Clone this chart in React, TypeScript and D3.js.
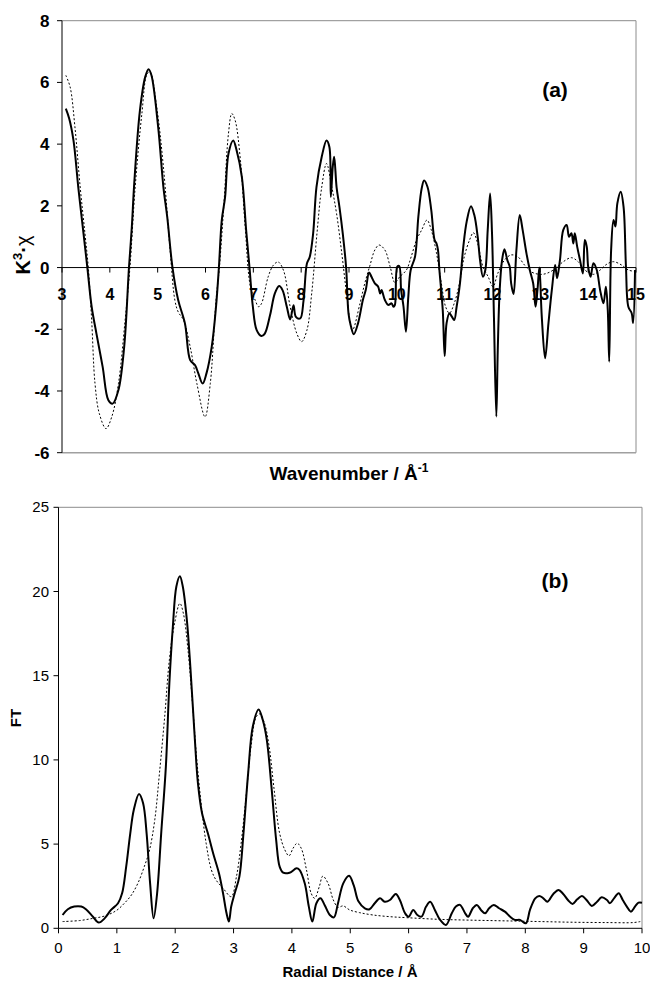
import React from "react";
import * as d3 from "d3";

// ---------- Panel (a): k^3·chi vs wavenumber ----------
const kExp = [3.08,3.15,3.24,3.34,3.45,3.53,3.62,3.72,3.85,3.97,4.06,4.18,4.30,4.40,4.46,4.51,4.63,4.74,4.81,4.87,5.01,5.12,5.20,5.31,5.43,5.57,5.68,5.78,5.85,5.94,6.02,6.13,6.22,6.28,6.34,6.41,6.48,6.58,6.65,6.76,6.85,6.92,6.99,7.07,7.17,7.24,7.35,7.45,7.54,7.61,7.70,7.77,7.84,7.89,7.98,8.05,8.12,8.18,8.25,8.32,8.43,8.53,8.59,8.62,8.66,8.69,8.74,8.80,8.87,8.94,8.99,9.04,9.10,9.19,9.29,9.35,9.42,9.47,9.54,9.61,9.65,9.68,9.75,9.82,9.89,9.93,9.96,10.01,10.05,10.09,10.14,10.19,10.24,10.29,10.38,10.45,10.52,10.57,10.64,10.72,10.79,10.83,10.86,10.89,10.96,11.0,11.04,11.10,11.15,11.20,11.25,11.32,11.39,11.46,11.55,11.62,11.69,11.74,11.80,11.85,11.90,11.95,11.99,12.03,12.08,12.11,12.15,12.20,12.25,12.31,12.36,12.39,12.44,12.50,12.57,12.63,12.71,12.78,12.85,12.90,12.94,12.98,13.03,13.10,13.17,13.24,13.31,13.35,13.41,13.48,13.55,13.60,13.65,13.69,13.72,13.77,13.83,13.89,13.93,13.97,14.0,14.05,14.11,14.18,14.25,14.32,14.37,14.41,14.44,14.48,14.53,14.57,14.61,14.68,14.74,14.79,14.84,14.91,14.94,14.98];
const chiExp = [5.15,4.83,4.12,2.61,1.1,0,-1.27,-2.14,-3.22,-4.3,-4.41,-3.97,-2.57,0,1.32,2.72,5.1,6.18,6.43,6.23,4.56,2.61,1.64,0,-1.06,-1.81,-3.0,-3.16,-3.43,-3.76,-3.43,-2.57,-1.27,0,1.53,2.29,3.69,4.12,3.8,2.94,1.21,0,-1.27,-2.03,-2.22,-2.14,-1.54,-0.84,-0.6,-0.73,-1.27,-1.68,-1.22,-1.6,-1.65,-1.06,0.13,0.35,1.1,2.61,3.59,4.12,3.91,2.29,3.26,3.59,2.61,1.97,1.1,0,-1.49,-1.9,-2.16,-1.8,-1.05,-0.73,-0.16,-0.3,-0.51,-0.62,-0.84,-0.73,-1.05,-1.21,-1.16,-1.27,-1.21,0.03,0.05,-0.73,-1.27,-2.08,-0.94,-0.08,0.35,1.65,2.57,2.82,2.62,1.86,0.89,0.78,0.57,-0.08,-1.38,-2.87,-1.8,-1.48,-1.59,-1.7,-1.27,-0.51,0.68,1.49,1.99,1.7,1.0,0.24,-0.3,-0.08,1.22,2.4,1.1,-1.59,-4.83,-2.67,-0.73,0.24,0.59,0.24,0.03,-0.51,-0.86,0.57,1.7,1.22,0.46,-0.08,-0.51,-1.27,-0.73,0,-1.59,-2.94,-1.8,-0.73,0.08,-0.35,0.24,1.22,1.38,1.0,1.11,0.78,1.11,0.68,0.24,-0.19,0.89,0.68,0.03,-0.3,0.14,-0.08,-0.73,-1.16,-0.62,-1.38,-3.05,0.57,1.54,1.33,2.08,2.46,1.97,0.03,-1.27,-1.48,-1.8,-0.08];

const kFit = [3.08,3.17,3.27,3.38,3.48,3.55,3.62,3.69,3.78,3.92,4.04,4.18,4.32,4.42,4.53,4.67,4.78,4.84,4.98,5.12,5.26,5.36,5.43,5.54,5.68,5.82,5.99,6.10,6.22,6.29,6.39,6.48,6.55,6.62,6.73,6.83,6.94,7.04,7.11,7.17,7.31,7.42,7.52,7.63,7.77,7.91,8.01,8.12,8.22,8.33,8.43,8.53,8.64,8.74,8.85,8.95,9.07,9.23,9.33,9.44,9.54,9.63,9.75,9.86,9.96,10.06,10.20,10.30,10.41,10.52,10.63,10.72,10.83,10.93,11.02,11.10,11.20,11.31,11.41,11.52,11.60,11.69,11.80,11.91,12.01,12.11,12.25,12.39,12.53,12.67,12.81,12.99,13.13,13.30,13.48,13.65,13.79,13.93,14.11,14.25,14.39,14.53,14.70,14.84,15.0];
const chiFit = [6.23,5.85,4.56,2.61,1.1,0,-1.7,-3.76,-4.73,-5.22,-4.84,-3.76,-1.7,0,2.61,4.99,6.28,6.34,5.2,3.26,0.56,-1.06,-1.44,-1.7,-2.57,-3.76,-4.84,-3.76,-1.06,0,2.18,4.34,4.99,4.77,3.48,1.32,-0.63,-1.06,-1.27,-1.17,-0.3,0.08,0.18,-0.09,-1.27,-2.14,-2.4,-2.03,-0.84,1.1,2.61,3.37,2.61,1.75,0.45,-0.84,-2.03,-1.16,-0.51,0.08,0.57,0.73,0.57,0.03,-0.49,-0.3,-0.08,0.35,0.89,1.22,1.54,1.22,0.46,-0.51,-1.27,-1.48,-1.16,-0.51,0.35,0.89,1.13,0.78,0.03,-0.3,-0.62,-0.19,0.24,0.41,0.35,0.08,-0.14,-0.22,-0.19,-0.05,0.19,0.32,0.19,-0.08,-0.22,-0.08,0.11,0.19,0.08,-0.08,-0.13];

const kTicks = [3,4,5,6,7,8,9,10,11,12,13,14,15];
const chiTicks = [-6,-4,-2,0,2,4,6,8];

// ---------- Panel (b): FT vs radial distance ----------
const rExp = [0.07,0.16,0.27,0.39,0.47,0.59,0.69,0.79,0.90,1.02,1.09,1.16,1.23,1.29,1.38,1.45,1.51,1.57,1.63,1.69,1.76,1.84,1.90,1.96,2.02,2.08,2.13,2.20,2.26,2.33,2.39,2.46,2.56,2.65,2.75,2.82,2.88,2.92,2.96,3.02,3.10,3.17,3.25,3.33,3.43,3.50,3.57,3.65,3.73,3.79,3.85,3.96,4.08,4.13,4.22,4.29,4.35,4.42,4.49,4.56,4.65,4.72,4.79,4.88,4.98,5.06,5.14,5.25,5.33,5.42,5.51,5.59,5.68,5.78,5.85,5.94,6.0,6.08,6.15,6.22,6.30,6.37,6.45,6.54,6.64,6.74,6.81,6.88,6.97,7.02,7.10,7.17,7.24,7.31,7.38,7.46,7.55,7.65,7.74,7.82,7.91,8.01,8.08,8.17,8.24,8.31,8.38,8.48,8.57,8.65,8.73,8.81,8.89,8.97,9.05,9.14,9.23,9.31,9.40,9.45,9.52,9.60,9.67,9.74,9.81,9.88,9.94,10.0];
const ftExp = [0.79,1.13,1.29,1.29,1.13,0.69,0.34,0.59,1.09,1.49,2.08,3.66,5.64,7.03,7.98,7.43,5.64,2.67,0.59,2.08,5.64,9.6,14.55,17.92,20.3,20.9,20.3,18.3,15.5,11.6,8.6,6.83,5.64,4.46,3.27,2.08,0.89,0.4,1.29,2.08,3.07,5.64,9.2,11.98,13.0,12.38,11.19,8.4,5.25,3.66,3.3,3.3,3.56,3.47,2.67,1.29,0.4,1.49,1.78,1.39,0.79,0.65,1.49,2.67,3.12,2.55,1.6,1.19,1.13,1.49,1.78,1.58,1.68,2.04,1.68,0.89,0.69,1.09,0.79,0.69,1.29,1.58,1.09,0.5,0.2,0.89,1.29,1.39,0.89,0.69,1.19,1.39,1.09,0.89,1.19,1.39,1.19,0.99,0.69,0.5,0.5,0.3,1.09,1.78,1.92,1.78,1.58,2.04,2.28,2.04,1.68,1.45,1.72,1.92,1.68,1.33,1.58,1.84,1.68,1.49,1.78,2.08,1.68,1.29,0.99,1.29,1.52,1.52];

const rFit = [0.07,0.36,0.59,0.79,0.99,1.13,1.25,1.36,1.47,1.56,1.65,1.73,1.82,1.90,1.99,2.08,2.14,2.22,2.30,2.37,2.45,2.53,2.62,2.70,2.82,2.96,3.05,3.13,3.22,3.30,3.39,3.45,3.53,3.61,3.69,3.79,3.88,3.95,4.02,4.09,4.16,4.25,4.33,4.39,4.47,4.53,4.62,4.71,4.79,4.88,4.99,5.16,5.39,5.68,5.97,6.54,7.11,7.68,8.25,8.82,9.40,9.85,9.97];
const ftFit = [0.4,0.46,0.59,0.73,1.05,1.49,1.98,2.67,3.66,4.65,6.44,9.2,12.57,15.94,18.12,19.3,18.7,16.5,13.17,10.0,7.23,5.05,3.47,2.87,2.38,1.88,3.07,5.05,8.0,10.8,12.57,12.73,12.18,10.8,8.4,5.64,4.65,4.3,4.75,5.05,4.75,3.47,2.08,1.78,2.48,3.1,2.67,1.68,1.25,1.33,1.09,0.93,0.79,0.69,0.63,0.53,0.48,0.44,0.4,0.36,0.34,0.34,0.4];

const rTicks = [0,1,2,3,4,5,6,7,8,9,10];
const ftTicks = [0,5,10,15,20,25];

const FONT = "'Liberation Sans', Arial, Helvetica, sans-serif";

export default function App() {
  // panel (a) scales
  const xA = d3.scaleLinear().domain([3, 15]).range([62, 636]);
  const yA = d3.scaleLinear().domain([-6, 8]).range([452.7, 20.7]);
  // panel (b) scales
  const xB = d3.scaleLinear().domain([0, 10]).range([58.5, 642]);
  const yB = d3.scaleLinear().domain([0, 25]).range([928.3, 507.3]);

  const curve = d3.curveCatmullRom.alpha(0.5);

  const mk = (xs: number[], ys: number[], sx: any, sy: any) =>
    d3.line<[number, number]>().x(d => sx(d[0])).y(d => sy(d[1])).curve(curve)(
      xs.map((x, i) => [x, ys[i]] as [number, number])
    ) || "";

  const expA = mk(kExp, chiExp, xA, yA);
  const fitA = mk(kFit, chiFit, xA, yA);
  const expB = mk(rExp, ftExp, xB, yB);
  const fitB = mk(rFit, ftFit, xB, yB);

  const [ax0, ax1] = xA.range();
  const [ay0, ay1] = [yA(-6), yA(8)];
  const [bx0, bx1] = xB.range();
  const [by0, by1] = [yB(0), yB(25)];

  return (
    <div style={{ position: "absolute", left: 0, top: 0 }}>
      <svg width={650} height={981} style={{ display: "block", background: "#fff" }} fontFamily={FONT}>
        {/* ===== Panel (a) ===== */}
        <g>
          <line x1={ax0} x2={ax1} y1={ay1} y2={ay1} stroke="#8c8c8c" strokeWidth={1} />
          <line x1={ax1} x2={ax1} y1={ay1} y2={ay0} stroke="#8c8c8c" strokeWidth={1} />
          <line x1={ax0} x2={ax1} y1={ay0} y2={ay0} stroke="#a0a0a0" strokeWidth={1.5} />
          <line x1={ax0} x2={ax0} y1={ay1} y2={ay0} stroke="#000" strokeWidth={1} />
          {chiTicks.map(t => (
            <g key={"ya" + t}>
              <line x1={ax0 - 5} x2={ax0} y1={yA(t)} y2={yA(t)} stroke="#000" />
              <text x={49.5} y={yA(t) + 6} textAnchor="end" fontSize={17} fontWeight="bold">{t}</text>
            </g>
          ))}
          <line x1={ax0} x2={ax1} y1={yA(0)} y2={yA(0)} stroke="#000" strokeWidth={1} />
          {kTicks.map(t => (
            <g key={"xa" + t}>
              <line x1={xA(t)} x2={xA(t)} y1={yA(0)} y2={yA(0) + 5} stroke="#000" />
              <text x={xA(t)} y={yA(0) + 32} textAnchor="middle" fontSize={16} fontWeight="bold">{t}</text>
            </g>
          ))}
          <path d={fitA} fill="none" stroke="#000" strokeWidth={1} strokeDasharray="2,2" />
          <path d={expA} fill="none" stroke="#000" strokeWidth={2} strokeLinejoin="round" />
          <text x={555} y={97} textAnchor="middle" fontSize={21} fontWeight="bold">(a)</text>
          <text x={349} y={480} textAnchor="middle" fontSize={19} fontWeight="bold">
            Wavenumber / Å<tspan dy={-8} fontSize={12}>-1</tspan>
          </text>
          <text transform={`translate(30,255) rotate(-90)`} textAnchor="middle" fontSize={20} fontWeight="bold">
            K<tspan dy={-8} fontSize={13}>3</tspan><tspan dy={8}>·</tspan><tspan fontWeight="normal">χ</tspan>
          </text>
        </g>

        {/* ===== Panel (b) ===== */}
        <g>
          <line x1={bx0} x2={bx1} y1={by1} y2={by1} stroke="#8c8c8c" strokeWidth={1} />
          <line x1={bx1} x2={bx1} y1={by1} y2={by0} stroke="#8c8c8c" strokeWidth={1} />
          <line x1={bx0} x2={bx0} y1={by1} y2={by0} stroke="#000" strokeWidth={1} />
          <line x1={bx0} x2={bx1} y1={by0} y2={by0} stroke="#000" strokeWidth={1} />
          {ftTicks.map(t => (
            <g key={"yb" + t}>
              <line x1={bx0 - 5} x2={bx0} y1={yB(t)} y2={yB(t)} stroke="#000" />
              <text x={49} y={yB(t) + 5} textAnchor="end" fontSize={15}>{t}</text>
            </g>
          ))}
          {rTicks.map(t => (
            <g key={"xb" + t}>
              <line x1={xB(t)} x2={xB(t)} y1={by0} y2={by0 + 5} stroke="#000" />
              <text x={xB(t)} y={by0 + 25} textAnchor="middle" fontSize={15}>{t}</text>
            </g>
          ))}
          <path d={fitB} fill="none" stroke="#000" strokeWidth={1} strokeDasharray="2,2" />
          <path d={expB} fill="none" stroke="#000" strokeWidth={2} strokeLinejoin="round" />
          <text x={555} y={588} textAnchor="middle" fontSize={21} fontWeight="bold">(b)</text>
          <text x={350} y={977} textAnchor="middle" fontSize={15} fontWeight="bold">Radial Distance / Å</text>
          <text transform={`translate(21,718) rotate(-90)`} textAnchor="middle" fontSize={15} fontWeight="bold">FT</text>
        </g>
      </svg>
    </div>
  );
}
